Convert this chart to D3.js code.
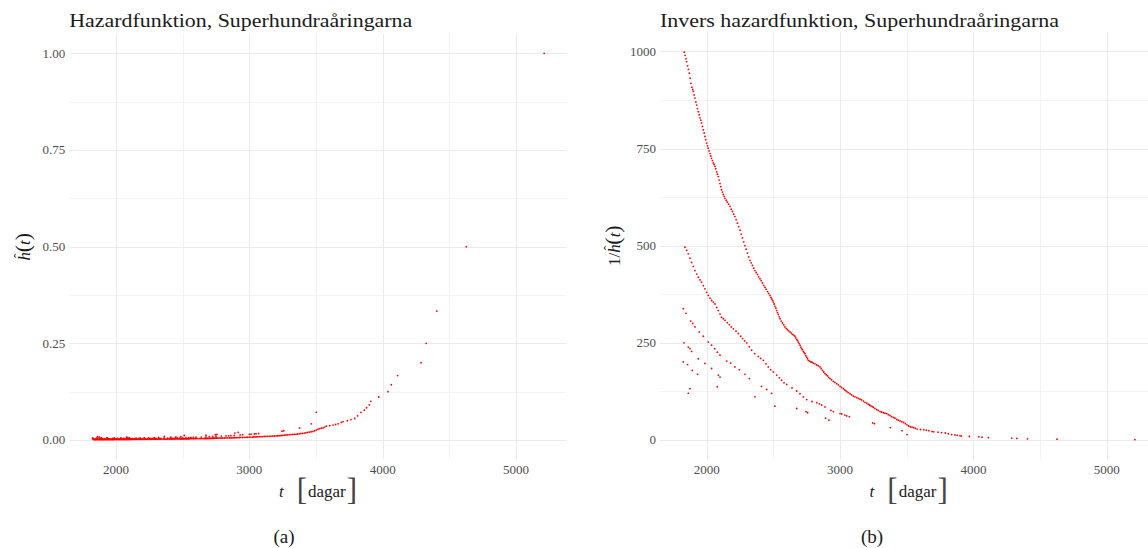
<!DOCTYPE html>
<html>
<head>
<meta charset="utf-8">
<script src="https://cdn.jsdelivr.net/npm/d3@7"></script>
<style>
body { margin: 0; background: #fff; }
text { font-family: "Liberation Serif", "DejaVu Serif", serif; }
</style>
</head>
<body>
<svg id="chart" width="1148" height="548"></svg>
<script>
// [dagar, 1/h(t)] for tider med 1 dodsfall (ovre kurvan)
var deaths1 = [
    [1832,998],[1838,990],[1845,981],[1850,974],[1857,963],[1863,954],[1870,944],[1876,931],[1882,918],[1889,908],
    [1895,902],[1900,897],[1906,888],[1912,880],[1919,870],[1925,862],[1931,853],[1937,845],[1944,837],[1950,829],
    [1956,823],[1962,816],[1968,807],[1975,798],[1981,790],[1987,781],[1993,773],[2000,764],[2006,757],[2012,751],
    [2018,744],[2025,737],[2031,731],[2037,725],[2043,719],[2050,713],[2056,709],[2062,704],[2068,698],[2075,690],
    [2081,684],[2087,678],[2093,669],[2100,660],[2106,652],[2112,644],[2118,638],[2125,632],[2131,627],[2137,622],
    [2146,617],[2155,612],[2164,607],[2175,601],[2184,594],[2193,588],[2203,581],[2212,575],[2221,567],[2231,558],
    [2240,549],[2250,540],[2259,530],[2268,520],[2278,510],[2287,500],[2296,491],[2306,481],[2315,471],[2325,462],
    [2334,456],[2343,449],[2353,442],[2362,436],[2371,431],[2381,426],[2390,420],[2400,415],[2409,410],[2418,404],
    [2428,398],[2437,393],[2446,388],[2456,382],[2465,377],[2475,372],[2482,367],[2488,363],[2494,359],[2500,355],
    [2506,350],[2512,344],[2519,339],[2525,333],[2531,328],[2537,323],[2544,317],[2550,312],[2559,306],[2568,301],
    [2578,296],[2587,291],[2597,287],[2606,284],[2615,281],[2625,278],[2634,275],[2643,272],[2653,270],[2662,267],
    [2668,263],[2675,259],[2681,256],[2687,252],[2693,248],[2700,244],[2706,239],[2712,235],[2718,232],[2725,228],
    [2731,225],[2737,222],[2743,217],[2750,213],[2756,209],[2762,205],[2772,203],[2781,201],[2790,200],[2800,198],
    [2812,196],[2825,193],[2837,191],[2850,188],[2859,184],[2868,179],[2878,175],[2887,171],[2896,168],[2906,165],
    [2915,161],[2925,158],[2937,155],[2950,151],[2962,148],[2975,145],[2987,142],[3000,138],[3012,135],[3025,132],
    [3034,129],[3043,127],[3053,124],[3062,122],[3075,119],[3087,116],[3100,113],[3112,111],[3125,109],[3137,107],
    [3150,105],[3162,103],[3175,100],[3187,97],[3200,95],[3212,92],[3222,90],[3231,88],[3241,86],[3250,84],
    [3262,81],[3275,78],[3287,76],[3300,73],[3312,72],[3325,70],[3337,69],[3350,68],[3362,65],[3375,63],
    [3387,60],[3400,58],[3412,56],[3425,53],[3437,51],[3450,49],[3463,47],[3477,45],[3490,42],[3502,39],
    [3515,36],[3528,34],[3540,33],[3553,32],[3565,30],[3578,28],[3603,27],[3628,26],[3647,25],[3666,24],
    [3690,22],[3703,21],[3735,20],[3762,19],[3790,18],[3812,16],[3837,14],[3862,13],[3879,12],[3900,11],
    [3910,10],[3970,9],[4040,8],[4065,7],[4112,6],[4288,5],[4326,4],[4406,3],[4627,2],[5211,1]
];
// 2 dodsfall
var deaths2 = [
    [1837,496],[1850,488],[1862,479],[1875,468],[1887,457],[1900,447],[1912,436],[1925,427],[1937,419],[1950,412],
    [1962,406],[1975,397],[1987,389],[2000,380],[2012,372],[2025,365],[2037,359],[2050,355],[2062,350],[2075,341],
    [2087,333],[2100,324],[2112,316],[2125,312],[2137,308],[2155,302],[2170,297],[2185,291],[2200,286],[2220,280],
    [2237,274],[2255,267],[2270,261],[2285,255],[2300,250],[2320,240],[2337,231],[2360,222],[2387,215],[2405,210],
    [2425,205],[2445,196],[2462,188],[2480,181],[2500,175],[2525,167],[2545,160],[2562,154],[2580,147],[2600,143],
    [2640,134],[2675,126],[2700,119],[2725,111],[2750,104],[2790,99],[2825,96],[2845,93],[2862,90],[2887,85],
    [2931,76],[2950,73],[3000,68],[3013,67],[3037,64],[3050,62],[3070,60],[3245,44],[3258,42],[3377,32],[3465,24]
];
// 3 dodsfall
var deaths3 = [
    [1825,338],[1845,326],[1880,306],[1895,300],[1912,291],[1945,278],[1975,267],[2012,252],[2037,244],[2060,235],
    [2080,226],[2100,218],[2150,203],[2180,198],[2212,188],[2245,181],[2287,169],[2320,158],[2412,138],[2450,130],
    [2487,120],[2675,81],[2745,73],[2757,70],[2892,56],[2917,51],[3502,14]
];
// 4 dodsfall
var deaths4 = [
    [1830,250],[1862,239],[1875,235],[1887,228],[1937,209],[1987,197],[2037,184],[2087,167],[2100,162],[2362,111],[2512,87]
];
// 5 eller fler dodsfall
var deaths5 = [[1825,201],[1857,194],[1892,179],[1932,169],[2080,137],[1875,132],[1862,120]];

var xTicks = [2000, 3000, 4000, 5000];
var xMinorTicks = [2500, 3500, 4500];
var hazTicks = [0, 0.25, 0.5, 0.75, 1];
var hazTickLabels = ["0.00", "0.25", "0.50", "0.75", "1.00"];
var invTicks = [0, 250, 500, 750, 1000];
var invTickLabels = ["0", "250", "500", "750", "1000"];

var allPoints = [].concat(deaths1, deaths2, deaths3, deaths4, deaths5).map(function(d) {
    return { t: d[0], inv: d[1], haz: 1 / d[1] };
});

var svg = d3.select("#chart");

var midpoints = function(ticks) {
    var out = [];
    for (var i = 0; i < ticks.length - 1; i++) out.push((ticks[i] + ticks[i + 1]) / 2);
    return out;
};

var drawPanel = function(p) {
    var x = d3.scaleLinear().domain([1650, 5380]).range([p.left, p.left + 497.4]);
    var y = d3.scaleLinear().domain(p.yDomain).range([p.bottom, p.top]);
    var g = svg.append("g");
    var yMinor = midpoints(p.yTicks);

    g.selectAll(".hminor").data(yMinor).enter().append("line")
        .attr("x1", x.range()[0]).attr("x2", x.range()[1])
        .attr("y1", function(d) { return Math.round(y(d)) + 0.5; })
        .attr("y2", function(d) { return Math.round(y(d)) + 0.5; })
        .attr("stroke", "#f3f3f3").attr("stroke-width", 1);
    g.selectAll(".vminor").data(xMinorTicks).enter().append("line")
        .attr("y1", p.top).attr("y2", p.bottom)
        .attr("x1", function(d) { return Math.round(x(d)) + 0.5; })
        .attr("x2", function(d) { return Math.round(x(d)) + 0.5; })
        .attr("stroke", "#f3f3f3").attr("stroke-width", 1);
    g.selectAll(".hmajor").data(p.yTicks).enter().append("line")
        .attr("x1", x.range()[0]).attr("x2", x.range()[1])
        .attr("y1", function(d) { return Math.round(y(d)) + 0.5; })
        .attr("y2", function(d) { return Math.round(y(d)) + 0.5; })
        .attr("stroke", "#ebebeb").attr("stroke-width", 1);
    g.selectAll(".vmajor").data(xTicks).enter().append("line")
        .attr("y1", p.top).attr("y2", p.bottom)
        .attr("x1", function(d) { return Math.round(x(d)) + 0.5; })
        .attr("x2", function(d) { return Math.round(x(d)) + 0.5; })
        .attr("stroke", "#ebebeb").attr("stroke-width", 1);

    // tick labels
    g.selectAll(".ylab").data(p.yTicks).enter().append("text")
        .attr("x", p.left - 4)
        .attr("y", function(d) { return y(d) + 4.5; })
        .attr("text-anchor", "end")
        .attr("font-size", 13)
        .attr("fill", "#4d4d4d")
        .text(function(d, i) { return p.yTickLabels[i]; });
    g.selectAll(".xlab").data(xTicks).enter().append("text")
        .attr("x", function(d) { return x(d); })
        .attr("y", p.bottom + 15)
        .attr("text-anchor", "middle")
        .attr("font-size", 13)
        .attr("fill", "#4d4d4d")
        .text(function(d) { return d; });

    g.selectAll("circle").data(allPoints).enter().append("circle")
        .attr("cx", function(d) { return x(d.t); })
        .attr("cy", function(d) { return y(d[p.key]); })
        .attr("r", 0.9)
        .style("fill", "red");

    // title
    g.append("text")
        .attr("x", p.left)
        .attr("y", 27)
        .attr("font-size", 18)
        .attr("fill", "#1a1a1a")
        .attr("textLength", p.titleWidth)
        .attr("lengthAdjust", "spacingAndGlyphs")
        .text(p.title);

    // x axis title: t [dagar]
    var cx = (x.range()[0] + x.range()[1]) / 2;
    var xt = g.append("text")
        .attr("x", cx)
        .attr("y", 497)
        .attr("text-anchor", "middle")
        .attr("fill", "#1a1a1a")
        .attr("font-size", 17);
    xt.append("tspan").attr("font-style", "italic").text("t");
    xt.append("tspan").attr("dx", 13).attr("dy", 3).attr("font-size", 31).attr("fill", "#444").text("[");
    xt.append("tspan").attr("dx", 1).attr("dy", -3).text("dagar");
    xt.append("tspan").attr("dx", 1).attr("dy", 3).attr("font-size", 31).attr("fill", "#444").text("]");

    // y axis title, h med hatt
    var yt = g.append("text")
        .attr("transform", "translate(" + p.yTitleX + "," + ((p.top + p.bottom) / 2) + ") rotate(-90)")
        .attr("text-anchor", "middle")
        .attr("fill", "#1a1a1a")
        .attr("font-size", 17);
    if (p.inverse) yt.append("tspan").text("1/");
    yt.append("tspan").attr("font-style", "italic").text("h");
    yt.append("tspan").attr("dx", -6).attr("dy", -6).attr("font-size", 14).text("\u02C6");
    yt.append("tspan").attr("dx", 1).attr("dy", 6).attr("font-size", 22).text("(");
    yt.append("tspan").attr("font-style", "italic").text("t");
    yt.append("tspan").attr("font-size", 22).text(")");

    // subcaption
    svg.append("text")
        .attr("x", p.captionX)
        .attr("y", 543)
        .attr("text-anchor", "middle")
        .attr("font-size", 19)
        .attr("fill", "#1a1a1a")
        .text(p.caption);
};

drawPanel({
    left: 69.3, top: 34, bottom: 459.3,
    yDomain: [-0.05, 1.05], yTicks: hazTicks, yTickLabels: hazTickLabels,
    key: "haz", inverse: false,
    title: "Hazardfunktion, Superhundraåringarna", titleWidth: 343,
    yTitleX: 30, caption: "(a)", captionX: 284
});

drawPanel({
    left: 660, top: 32, bottom: 459.4,
    yDomain: [-50, 1050], yTicks: invTicks, yTickLabels: invTickLabels,
    key: "inv", inverse: true,
    title: "Invers hazardfunktion, Superhundraåringarna", titleWidth: 399,
    yTitleX: 620, caption: "(b)", captionX: 872
});
</script>
</body>
</html>
